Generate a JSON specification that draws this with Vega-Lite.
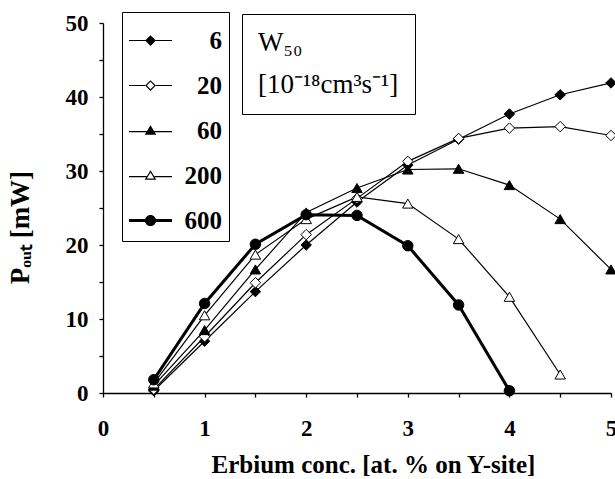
{
  "$schema": "https://vega.github.io/schema/vega-lite/v6.json",
  "width": 508,
  "height": 370,
  "autosize": {"type": "none"},
  "padding": {"left": 103, "top": 23, "right": 4, "bottom": 86},
  "background": "white",
  "config": {"view": {"stroke": null}, "font": "Liberation Serif"},
  "data": {"values": [
    {"series": "6", "w": 6, "x": 0.5, "y": 0.3},
    {"series": "6", "w": 6, "x": 1.0, "y": 7.0},
    {"series": "6", "w": 6, "x": 1.5, "y": 13.7},
    {"series": "6", "w": 6, "x": 2.0, "y": 20.0},
    {"series": "6", "w": 6, "x": 2.5, "y": 25.8},
    {"series": "6", "w": 6, "x": 3.0, "y": 30.8},
    {"series": "6", "w": 6, "x": 3.5, "y": 34.3},
    {"series": "6", "w": 6, "x": 4.0, "y": 37.7},
    {"series": "6", "w": 6, "x": 4.5, "y": 40.3},
    {"series": "6", "w": 6, "x": 5.0, "y": 41.9},
    {"series": "20", "w": 20, "x": 0.5, "y": 0.5},
    {"series": "20", "w": 20, "x": 1.0, "y": 7.6},
    {"series": "20", "w": 20, "x": 1.5, "y": 14.9},
    {"series": "20", "w": 20, "x": 2.0, "y": 21.4},
    {"series": "20", "w": 20, "x": 2.5, "y": 26.3},
    {"series": "20", "w": 20, "x": 3.0, "y": 31.3},
    {"series": "20", "w": 20, "x": 3.5, "y": 34.4},
    {"series": "20", "w": 20, "x": 4.0, "y": 35.8},
    {"series": "20", "w": 20, "x": 4.5, "y": 36.0},
    {"series": "20", "w": 20, "x": 5.0, "y": 34.8},
    {"series": "60", "w": 60, "x": 0.5, "y": 1.0},
    {"series": "60", "w": 60, "x": 1.0, "y": 8.5},
    {"series": "60", "w": 60, "x": 1.5, "y": 16.7},
    {"series": "60", "w": 60, "x": 2.0, "y": 24.4},
    {"series": "60", "w": 60, "x": 2.5, "y": 27.7},
    {"series": "60", "w": 60, "x": 3.0, "y": 30.2},
    {"series": "60", "w": 60, "x": 3.5, "y": 30.3},
    {"series": "60", "w": 60, "x": 4.0, "y": 28.1},
    {"series": "60", "w": 60, "x": 4.5, "y": 23.5},
    {"series": "60", "w": 60, "x": 5.0, "y": 16.7},
    {"series": "200", "w": 200, "x": 0.5, "y": 1.3},
    {"series": "200", "w": 200, "x": 1.0, "y": 10.5},
    {"series": "200", "w": 200, "x": 1.5, "y": 18.7},
    {"series": "200", "w": 200, "x": 2.0, "y": 23.5},
    {"series": "200", "w": 200, "x": 2.5, "y": 26.5},
    {"series": "200", "w": 200, "x": 3.0, "y": 25.6},
    {"series": "200", "w": 200, "x": 3.5, "y": 20.8},
    {"series": "200", "w": 200, "x": 4.0, "y": 13.0},
    {"series": "200", "w": 200, "x": 4.5, "y": 2.5},
    {"series": "600", "w": 600, "x": 0.5, "y": 1.8},
    {"series": "600", "w": 600, "x": 1.0, "y": 12.1},
    {"series": "600", "w": 600, "x": 1.5, "y": 20.1},
    {"series": "600", "w": 600, "x": 2.0, "y": 24.1},
    {"series": "600", "w": 600, "x": 2.5, "y": 24.0},
    {"series": "600", "w": 600, "x": 3.0, "y": 19.9},
    {"series": "600", "w": 600, "x": 3.5, "y": 11.9},
    {"series": "600", "w": 600, "x": 4.0, "y": 0.3}
  ]},
  "encoding": {
    "x": {
      "field": "x", "type": "quantitative",
      "scale": {"domain": [0, 5], "nice": false, "zero": true},
      "axis": {
        "title": "Erbium conc. [at. % on Y-site]",
        "values": [0, 0.5, 1, 1.5, 2, 2.5, 3, 3.5, 4, 4.5, 5],
        "labelExpr": "datum.value % 1 == 0 ? format(datum.value, 'd') : ''",
        "grid": false,
        "domainColor": "black", "domainWidth": 1.3,
        "tickColor": "black", "tickWidth": 1.3, "tickSize": 4,
        "labelFont": "Liberation Serif", "labelFontWeight": "bold", "labelFontSize": 23, "labelColor": "black",
        "labelPadding": 20, "labelOverlap": false, "labelFlush": false,
        "titleFont": "Liberation Serif", "titleFontWeight": "bold", "titleFontSize": 25, "titleColor": "black",
        "titleX": 270, "titleY": 59,
        "encode": {"ticks": {"y": {"value": -4}}}
      }
    },
    "y": {
      "field": "y", "type": "quantitative",
      "scale": {"domain": [0, 50], "nice": false},
      "axis": {
        "title": "Pₒᵤₜ [mW]",
        "values": [0, 5, 10, 15, 20, 25, 30, 35, 40, 45, 50],
        "labelExpr": "datum.value % 10 == 0 ? datum.label : ''",
        "grid": false,
        "domainColor": "black", "domainWidth": 1.3,
        "tickColor": "black", "tickWidth": 1.3, "tickSize": 4,
        "labelFont": "Liberation Serif", "labelFontWeight": "bold", "labelFontSize": 23, "labelColor": "black",
        "labelPadding": 11, "labelOverlap": false, "labelFlush": false,
        "titleFont": "Liberation Serif", "titleFontWeight": "bold", "titleFontSize": 27, "titleColor": "black",
        "titleX": -69, "titleY": 204,
        "encode": {"ticks": {"x": {"value": 4}}}
      }
    }
  },
  "layer": [
    {
      "mark": {"type": "line", "color": "black"},
      "encoding": {
        "detail": {"field": "series", "type": "nominal"},
        "strokeWidth": {
          "field": "w", "type": "quantitative",
          "scale": {"type": "threshold", "domain": [300], "range": [1.2, 3]},
          "legend": {
            "orient": "none", "legendX": 139, "legendY": -9,
            "title": ["W₅₀", "[10⁻¹⁸cm³s⁻¹]"],
            "values": [],
            "titleFont": "Liberation Serif", "titleFontWeight": "normal", "titleFontSize": 27,
            "titleColor": "black", "titleLineHeight": 42, "titlePadding": 0,
            "padding": 16, "strokeColor": "black", "fillColor": "white"
          }
        }
      }
    },
    {
      "mark": {"type": "point", "filled": true, "stroke": "black", "strokeWidth": 1, "size": 110, "opacity": 1},
      "encoding": {
        "shape": {
          "field": "series", "type": "nominal",
          "scale": {"domain": ["6", "20", "60", "200", "600"], "range": ["diamond", "diamond", "triangle-up", "triangle-up", "circle"]},
          "legend": null
        },
        "fill": {
          "field": "series", "type": "nominal",
          "scale": {"domain": ["6", "20", "60", "200", "600"], "range": ["black", "white", "black", "white", "black"]},
          "legend": null
        }
      }
    },
    {
      "transform": [{"filter": "false"}],
      "mark": {"type": "point", "filled": true, "color": "black", "opacity": 1},
      "encoding": {
        "shape": {
          "field": "series", "type": "nominal",
          "scale": {"domain": ["6", "20", "60", "200", "600"], "range": [
            "M-1,-0.028L1,-0.028L1,0.028L-1,0.028ZM0,-0.25L0.25,0L0,0.25L-0.25,0Z",
            "M-1,-0.028L-0.25,-0.028L-0.25,0.028L-1,0.028ZM0.25,-0.028L1,-0.028L1,0.028L0.25,0.028ZM0,-0.25L0.25,0L0,0.25L-0.25,0ZM0,-0.17L-0.17,0L0,0.17L0.17,0Z",
            "M-1,0.022L1,0.022L1,0.078L-1,0.078ZM0,-0.25L0.27,0.2L-0.27,0.2Z",
            "M-1,0.022L-0.18,0.022L-0.18,0.078L-1,0.078ZM0.18,0.022L1,0.022L1,0.078L0.18,0.078ZM0,-0.25L0.27,0.2L-0.27,0.2ZM0,-0.141L-0.171,0.144L0.171,0.144Z",
            "M-1,-0.07L1,-0.07L1,0.07L-1,0.07ZM0.26,0A0.26,0.26,0,1,1,-0.26,0A0.26,0.26,0,1,1,0.26,0Z"
          ]},
          "legend": {
            "orient": "none", "legendX": 19, "legendY": -11,
            "title": null, "direction": "vertical", "columns": 1,
            "padding": 7, "rowPadding": 10,
            "symbolSize": 1849, "symbolStrokeWidth": 0,
            "labelFont": "Liberation Serif", "labelFontWeight": "bold", "labelFontSize": 25, "labelColor": "black",
            "labelAlign": "right", "labelOffset": 50,
            "strokeColor": "black", "fillColor": "white"
          }
        }
      }
    }
  ],
  "resolve": {"scale": {"shape": "independent"}}
}
